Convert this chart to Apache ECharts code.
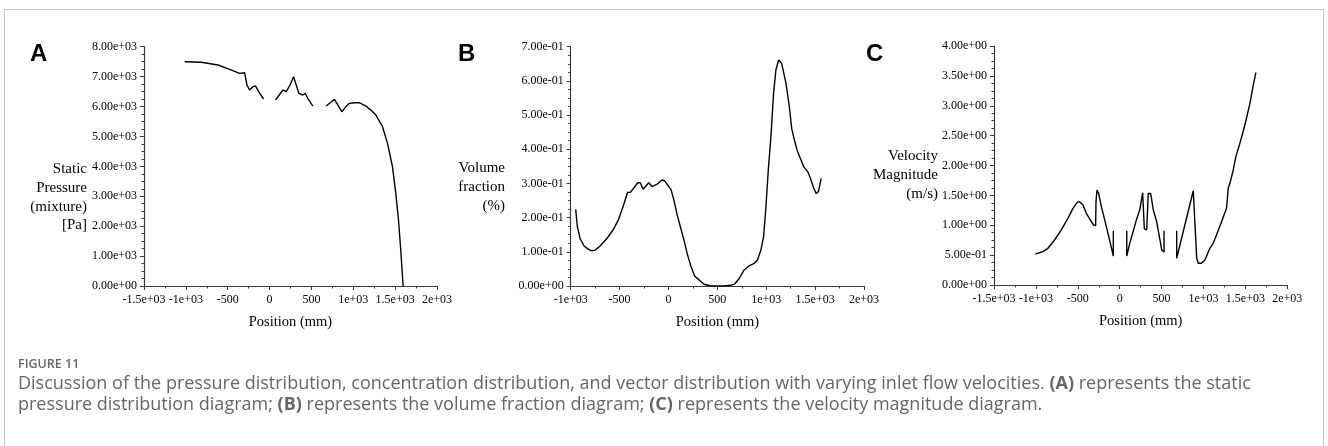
<!DOCTYPE html>
<html>
<head>
<meta charset="utf-8">
<script src="https://cdn.jsdelivr.net/npm/echarts@6/dist/echarts.min.js"></script>
<style>
html,body{margin:0;padding:0;background:#fff;}
#chart{width:1328px;height:446px;}
</style>
</head>
<body>
<div id="chart"></div>
<script>
// ---------- DATA ----------
// Panel A: static pressure (null = gap between segments)
const positionA = [-1014,-815,-616,-477,-358,-298,-270,-239,-199,-167,-131,-72,null,
  72,159,199,245,286,320,350,398,426,457,517,null,
  676,720,775,820,863,910,954,1014,1071,1151,1210,1270,1349,1409,1468,1508,1540,1567,1595];
const pressure = [7499,7478,7388,7243,7110,7131,6719,6552,6663,6686,6496,6252,null,
  6218,6552,6496,6720,6997,6700,6442,6385,6442,6274,6017,null,
  6017,6120,6240,6030,5827,5990,6107,6128,6127,6016,5880,5715,5325,4768,3988,3097,2206,1203,0];

// Panel B: volume fraction
const positionB = [-949,-932,-904,-863,-818,-784,-750,-699,-630,-562,-510,-459,-418,-390,-356,-315,-288,-260,-236,-202,-168,-116,-65,-41,3,27,55,89,123,158,192,226,267,312,363,432,568,637,678,723,774,825,877,911,945,973,997,1021,1048,1075,1099,1127,1158,1202,1236,1260,1288,1315,1349,1384,1425,1452,1486,1510,1534,1562];
const volumeFraction = [0.224,0.174,0.139,0.117,0.107,0.103,0.105,0.117,0.139,0.166,0.195,0.237,0.274,0.274,0.286,0.302,0.302,0.283,0.291,0.302,0.291,0.298,0.310,0.308,0.291,0.281,0.252,0.208,0.172,0.135,0.094,0.061,0.029,0.018,0.005,0.000,0.000,0.002,0.006,0.022,0.047,0.059,0.066,0.076,0.105,0.144,0.232,0.339,0.437,0.564,0.632,0.661,0.651,0.593,0.525,0.461,0.427,0.398,0.373,0.349,0.334,0.315,0.286,0.271,0.276,0.315];

// Panel C: velocity magnitude
const positionC = [-1004,-916,-857,-777,-697,-618,-558,-506,-478,-438,-398,-351,-311,-287,-283,-271,-251,-219,-159,-76,-76,null,
  84,84,120,199,239,274,294,322,341,370,401,441,481,501,529,529,null,
  680,680,878,919,938,976,1016,1076,1116,1155,1215,1275,1295,1315,1355,1386,1434,1494,1554,1594,1625];
const velocity = [0.519,0.558,0.614,0.753,0.921,1.116,1.283,1.384,1.395,1.339,1.199,1.088,1.004,0.993,1.395,1.590,1.534,1.311,0.976,0.485,0.909,null,
  0.909,0.485,0.697,1.088,1.255,1.545,0.942,0.920,1.535,1.528,1.255,1.060,0.753,0.586,0.552,0.909,null,
  0.909,0.447,1.578,0.447,0.363,0.363,0.418,0.614,0.697,0.837,1.060,1.283,1.618,1.702,1.925,2.148,2.371,2.678,3.040,3.347,3.554];

// Tick labels
const xTicksA = ['-1.5e+03','-1e+03','-500','0','500','1e+03','1.5e+03','2e+03'];
const xTicksB = ['-1e+03','-500','0','500','1e+03','1.5e+03','2e+03'];
const xTicksC = ['-1.5e+03','-1e+03','-500','0','500','1e+03','1.5e+03','2e+03'];
const yTicksA = ['0.00e+00','1.00e+03','2.00e+03','3.00e+03','4.00e+03','5.00e+03','6.00e+03','7.00e+03','8.00e+03'];
const yTicksB = ['0.00e+00','1.00e-01','2.00e-01','3.00e-01','4.00e-01','5.00e-01','6.00e-01','7.00e-01'];
const yTicksC = ['0.00e+00','5.00e-01','1.00e+00','1.50e+00','2.00e+00','2.50e+00','3.00e+00','3.50e+00','4.00e+00'];

// Axis titles
const xTitle = 'Position (mm)';
const yTitleA = 'Static\nPressure\n(mixture)\n[Pa]';
const yTitleB = 'Volume\nfraction\n(%)';
const yTitleC = 'Velocity\nMagnitude\n(m/s)';

// ---------- CHART ----------
const SERIF = '"Liberation Serif", "DejaVu Serif", serif';
const SANS = '"Open Sans", "Noto Sans", sans-serif';
const axisColor = '#3a3a3a';

function pairs(xs, ys){
  return xs.map((x,i)=> (x===null || ys[i]===null) ? ['-','-'] : [x, ys[i]]);
}
function xAxisCfg(idx, min, max, labels){
  return {
    type:'value', gridIndex:idx, min:min, max:max, interval:500,
    name:xTitle, nameLocation:'middle', nameGap:29,
    nameTextStyle:{fontFamily:SERIF, fontSize:14.5, color:'#000'},
    axisLine:{show:true, onZero:false, lineStyle:{color:axisColor, width:1.2}},
    axisTick:{show:true, inside:false, length:4, lineStyle:{color:axisColor, width:1}},
    minorTick:{show:true, splitNumber:2, length:2.5, lineStyle:{color:axisColor, width:1}},
    axisLabel:{fontFamily:SERIF, fontSize:12, color:'#000', margin:8, showMinLabel:true, showMaxLabel:true,
      formatter:function(v){ return labels[Math.round((v-min)/500)]; }},
    splitLine:{show:false}
  };
}
function yAxisCfg(idx, max, interval, labels){
  return {
    type:'value', gridIndex:idx, min:0, max:max, interval:interval,
    axisLine:{show:true, onZero:false, lineStyle:{color:axisColor, width:1.2}},
    axisTick:{show:true, inside:false, length:4, lineStyle:{color:axisColor, width:1}},
    minorTick:{show:true, splitNumber:4, length:2.5, lineStyle:{color:axisColor, width:1}},
    axisLabel:{fontFamily:SERIF, fontSize:12, color:'#000', margin:7,
      formatter:function(v){ return labels[Math.round(v/interval)]; }},
    splitLine:{show:false}
  };
}
function lineSeries(idx, data){
  return {type:'line', xAxisIndex:idx, yAxisIndex:idx, data:data, showSymbol:false, symbol:'none',
    connectNulls:false, lineStyle:{color:'#000', width:1.4}, animation:false, silent:true};
}
function yTitle(text, x, y){
  return {type:'text', x:x, y:y, silent:true, style:{text:text, fontFamily:SERIF, fontSize:15, fill:'#000',
    align:'right', verticalAlign:'middle', lineHeight:18.7}};
}
const captionRich = {b:{fontFamily:SANS, fontSize:18, fontWeight:'bold', fill:'#666'}};

const chart = echarts.init(document.getElementById('chart'), null, {renderer:'canvas'});
chart.setOption({
  animation:false,
  backgroundColor:'#fff',
  grid:[
    {left:144, top:46.7, width:293, height:239.3},
    {left:570.7, top:46.7, width:293.3, height:239.3},
    {left:994, top:46, width:293.3, height:239}
  ],
  xAxis:[
    xAxisCfg(0,-1500,2000,xTicksA),
    xAxisCfg(1,-1000,2000,xTicksB),
    xAxisCfg(2,-1500,2000,xTicksC)
  ],
  yAxis:[
    yAxisCfg(0,8000,1000,yTicksA),
    yAxisCfg(1,0.7,0.1,yTicksB),
    yAxisCfg(2,4,0.5,yTicksC)
  ],
  series:[
    lineSeries(0, pairs(positionA, pressure)),
    lineSeries(1, pairs(positionB, volumeFraction)),
    lineSeries(2, pairs(positionC, velocity))
  ],
  graphic:[
    {type:'rect', shape:{x:4.5, y:9.5, width:1319, height:460}, style:{fill:'none', stroke:'#c4c4c4', lineWidth:1}, silent:true},
    yTitle(yTitleA, 87, 197.5),
    yTitle(yTitleB, 505, 187),
    yTitle(yTitleC, 938, 175),
    {type:'text', left:30, top:42, style:{text:'A', font:'bold 24px "Liberation Sans", Arial, sans-serif', fill:'#000'}},
    {type:'text', left:458, top:42, style:{text:'B', font:'bold 24px "Liberation Sans", Arial, sans-serif', fill:'#000'}},
    {type:'text', left:866, top:42, style:{text:'C', font:'bold 24px "Liberation Sans", Arial, sans-serif', fill:'#000'}},
    {type:'text', x:18, y:364, style:{text:'FIGURE 11', font:'600 12.5px "Open Sans", sans-serif', fill:'#666', verticalAlign:'middle'}},
    {type:'text', x:18, y:384, style:{
      text:'Discussion of the pressure distribution, concentration distribution, and vector distribution with varying inlet flow velocities. {b|(A)} represents the static',
      font:'18px "Open Sans", sans-serif', fill:'#666', verticalAlign:'middle', rich:captionRich}},
    {type:'text', x:18, y:405, style:{
      text:'pressure distribution diagram; {b|(B)} represents the volume fraction diagram; {b|(C)} represents the velocity magnitude diagram.',
      font:'18px "Open Sans", sans-serif', fill:'#666', verticalAlign:'middle', rich:captionRich}}
  ]
});
</script>
</body>
</html>
